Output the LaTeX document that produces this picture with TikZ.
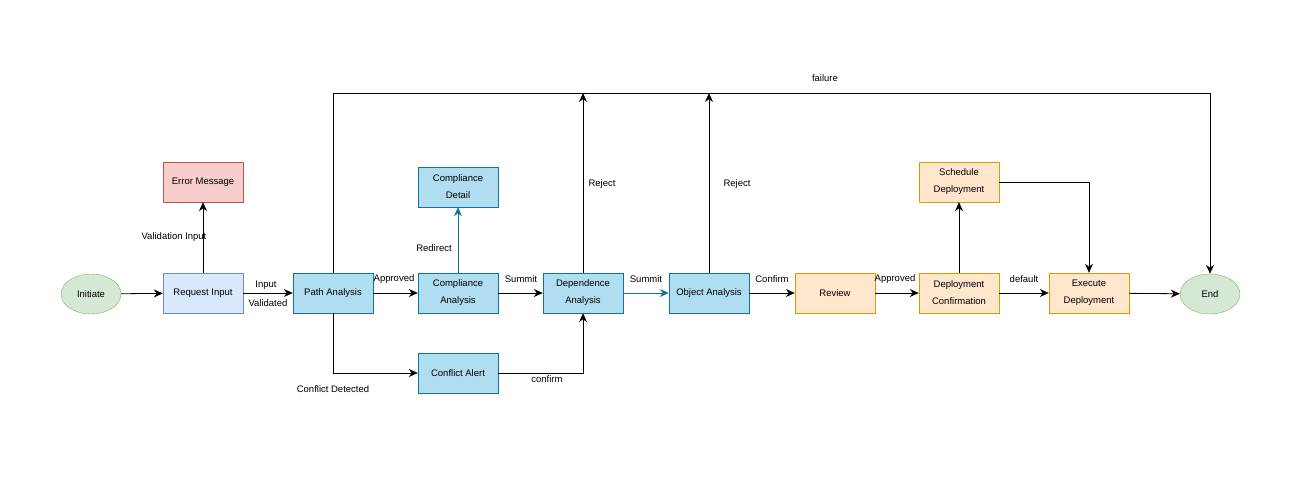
\documentclass[tikz,border=0pt]{standalone}
\usepackage{fontspec}
\setmainfont{Liberation Sans}
\usetikzlibrary{arrows.meta,shapes.geometric}
\definecolor{bF}{HTML}{B1DDF0}\definecolor{bD}{HTML}{10739E}
\definecolor{lF}{HTML}{DAE8FC}\definecolor{lD}{HTML}{6C8EBF}
\definecolor{rF}{HTML}{F8CECC}\definecolor{rD}{HTML}{B85450}
\definecolor{oF}{HTML}{FFE6CC}\definecolor{oD}{HTML}{D79B00}
\definecolor{gF}{HTML}{D5E8D4}\definecolor{gD}{HTML}{82B366}
\begin{document}
\begin{tikzpicture}[x=1pt,y=-1pt,font=\fontsize{9.5}{17}\selectfont,
 box/.style={draw,rectangle,minimum width=80pt,minimum height=40pt,align=center,inner sep=1pt},
 blue/.style={box,fill=bF,draw=bD},
 lblue/.style={box,fill=lF,draw=lD},
 red/.style={box,fill=rF,draw=rD},
 org/.style={box,fill=oF,draw=oD},
 term/.style={draw=gD,fill=gF,ellipse,minimum width=60pt,minimum height=40pt,inner sep=0pt},
 arr/.style={-{Stealth[length=9pt,width=8pt]},line width=0.8pt},
 lbl/.style={font=\fontsize{9.5}{11}\selectfont}]
\useasboundingbox (0,0) rectangle (1296,477);
\node[term] (ini) at (91,294) {Initiate};
\node[lblue] (req) at (203,293) {Request Input};
\node[blue] (path) at (333,293) {Path Analysis};
\node[blue] (comp) at (458,293) {Compliance\\Analysis};
\node[blue] (dep) at (583,293) {Dependence\\Analysis};
\node[blue] (obj) at (709,293) {Object Analysis};
\node[org] (rev) at (835,293) {Review};
\node[org] (dc) at (959,293) {Deployment\\Confirmation};
\node[org] (exe) at (1089,293) {Execute\\Deployment};
\node[term] (end) at (1210,294) {End};
\node[red] (err) at (203,182) {Error Message};
\node[blue] (cd) at (458,187) {Compliance\\Detail};
\node[blue] (ca) at (458,373) {Conflict Alert};
\node[org] (sch) at (959,182) {Schedule\\Deployment};
\coordinate (t1) at (333,93);
\coordinate (t2) at (1210,93);
\coordinate (r1) at (583,93);
\coordinate (r2) at (709,93);
\draw[arr] (ini) -- (req);
\draw[arr] (req) -- (path);
\draw[arr] (path) -- (comp);
\draw[arr] (comp) -- (dep);
\draw[arr,draw=bD] (dep) -- (obj);
\draw[arr] (obj) -- (rev);
\draw[arr] (rev) -- (dc);
\draw[arr] (dc) -- (exe);
\draw[arr] (exe) -- (end);
\draw[arr] (req) -- (err);
\draw[arr,draw=bD] (comp) -- (cd);
\draw[arr] (dc) -- (sch);
\draw[arr] (sch.east) -| (exe.north);
\draw[arr] (path.south) |- (ca.west);
\draw[arr] (ca.east) -| (dep.south);
\draw[arr] (path.north) -- (t1) -- (t2) -- (end.north);
\draw[arr] (dep.north) -- (r1);
\draw[arr] (obj.north) -- (r2);
\node[lbl] (l1) at (266,285) {Input};
\node[lbl] (l2) at (268,303) {Validated};
\node[lbl] (l3) at (394,279) {Approved};
\node[lbl] (l4) at (521,279) {Summit};
\node[lbl] (l5) at (646,279) {Summit};
\node[lbl] (l6) at (772,279) {Confirm};
\node[lbl] (l7) at (895,279) {Approved};
\node[lbl] (l8) at (1024,279) {default};
\node[lbl] (l9) at (174,237) {Validation Input};
\node[lbl] (l10) at (434,248) {Redirect};
\node[lbl] (l11) at (333,389) {Conflict Detected};
\node[lbl] (l12) at (547,379) {confirm};
\node[lbl] (l13) at (602,184) {Reject};
\node[lbl] (l14) at (737,184) {Reject};
\node[lbl] (l15) at (825,78) {failure};
\end{tikzpicture}
\end{document}
